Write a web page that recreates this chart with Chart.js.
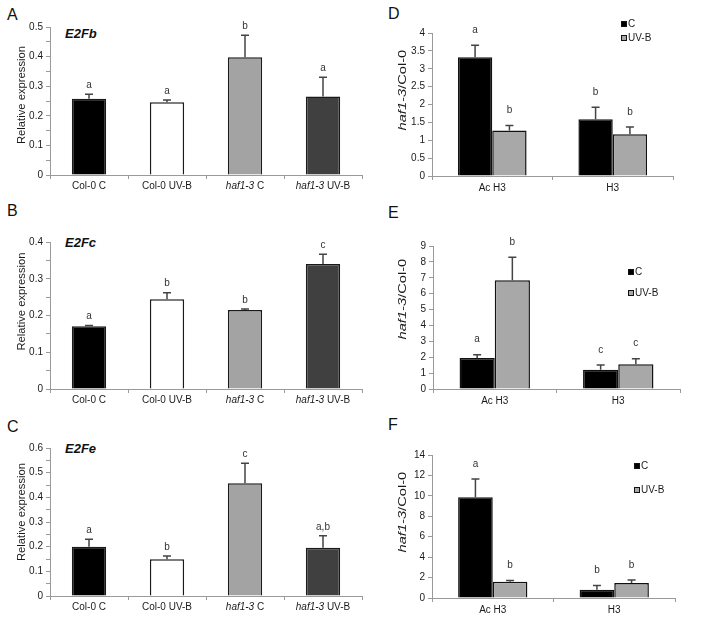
<!DOCTYPE html>
<html>
<head>
<meta charset="utf-8">
<script src="https://cdn.jsdelivr.net/npm/chart.js@4.4.1/dist/chart.umd.min.js"></script>
<style>
  body { margin: 0; background: #fff; width: 713px; height: 630px; position: relative; overflow: hidden; font-family: "Liberation Sans", Arial, sans-serif; }
  canvas { position: absolute; }
  .tag { position: absolute; font-size: 16px; color: #111; line-height: 16px; }
  .gene { position: absolute; font-size: 13px; font-weight: bold; font-style: italic; color: #111; line-height: 13px; }
</style>
</head>
<body>
<div class="tag" style="left:7px;top:7px">A</div>
<div class="tag" style="left:7px;top:203px">B</div>
<div class="tag" style="left:7px;top:419px">C</div>
<div class="tag" style="left:388px;top:6px">D</div>
<div class="tag" style="left:388px;top:205px">E</div>
<div class="tag" style="left:388px;top:417px">F</div>
<div class="gene" style="left:65px;top:27px">E2Fb</div>
<div class="gene" style="left:65px;top:236px">E2Fc</div>
<div class="gene" style="left:65px;top:442px">E2Fe</div>

<canvas id="chartA"></canvas>
<canvas id="chartB"></canvas>
<canvas id="chartC"></canvas>
<canvas id="chartD"></canvas>
<canvas id="chartE"></canvas>
<canvas id="chartF"></canvas>

<script>
// categories
const genotypes = ['Col-0 C', 'Col-0 UV-B', 'haf1-3 C', 'haf1-3 UV-B'];
const histones = ['Ac H3', 'H3'];
const treatments = ['C', 'UV-B'];

// A - E2Fb
const e2fbMean = [0.258, 0.246, 0.398, 0.265];
const e2fbSd = [0.015, 0.007, 0.074, 0.065];
const e2fbLetters = ['a', 'a', 'b', 'a'];
// B - E2Fc
const e2fcMean = [0.171, 0.244, 0.215, 0.340];
const e2fcSd = [0.002, 0.018, 0.003, 0.027];
const e2fcLetters = ['a', 'b', 'b', 'c'];
// C - E2Fe
const e2feMean = [0.200, 0.149, 0.457, 0.196];
const e2feSd = [0.030, 0.013, 0.081, 0.048];
const e2feLetters = ['a', 'b', 'c', 'a,b'];

// D
const dMeanC = [3.32, 1.59];
const dSdC = [0.34, 0.33];
const dMeanUV = [1.27, 1.17];
const dSdUV = [0.14, 0.20];
const dLettersC = ['a', 'b'];
const dLettersUV = ['b', 'b'];
// E
const eMeanC = [1.95, 1.21];
const eSdC = [0.21, 0.30];
const eMeanUV = [6.84, 1.55];
const eSdUV = [1.45, 0.36];
const eLettersC = ['a', 'c'];
const eLettersUV = ['b', 'c'];
// F
const fMeanC = [9.86, 0.81];
const fSdC = [1.79, 0.42];
const fMeanUV = [1.59, 1.46];
const fSdUV = [0.13, 0.30];
const fLettersC = ['a', 'b'];
const fLettersUV = ['b', 'b'];

// y axis ranges: [max, step]
const leftTicks = { A: [0.5, 0.05], B: [0.4, 0.05], C: [0.6, 0.05] };
const rightTicks = { D: [4, 0.5], E: [9, 1], F: [14, 2] };

const FONT = '"Liberation Sans", Arial, sans-serif';
Chart.defaults.font.family = FONT;
Chart.defaults.color = '#1a1a1a';

const genoColors = ['#000000', '#ffffff', '#a3a3a3', '#404040'];
const treatColors = ['#000000', '#a8a8a8'];

// draw text where "haf1-3" is italic
function mixedText(ctx, label, x, y, size, align) {
  const parts = label.startsWith('haf1-3') ? [['italic ', 'haf1-3'], ['', label.slice(6)]] : [['', label]];
  let total = 0;
  parts.forEach(p => { ctx.font = p[0] + size + 'px ' + FONT; total += ctx.measureText(p[1]).width; });
  let cx = align === 'center' ? x - total / 2 : x;
  ctx.textAlign = 'left';
  parts.forEach(p => {
    ctx.font = p[0] + size + 'px ' + FONT;
    ctx.fillText(p[1], cx, y);
    cx += ctx.measureText(p[1]).width;
  });
  return total;
}

const extras = {
  id: 'extras',
  afterDatasetsDraw(chart) {
    const p = chart.config.options.panel;
    const ctx = chart.ctx;
    const ys = chart.scales.y;
    ctx.save();
    chart.data.datasets.forEach((ds, d) => {
      const meta = chart.getDatasetMeta(d);
      meta.data.forEach((bar, i) => {
        const top = ys.getPixelForValue(ds.data[i] + ds.sd[i]);
        ctx.strokeStyle = '#444';
        ctx.lineWidth = 1.5;
        ctx.beginPath();
        ctx.moveTo(bar.x, bar.y);
        ctx.lineTo(bar.x, top);
        ctx.moveTo(bar.x - 4, top);
        ctx.lineTo(bar.x + 4, top);
        ctx.stroke();
        ctx.fillStyle = '#333';
        ctx.textBaseline = 'middle';
        ctx.textAlign = 'center';
        ctx.font = '10px ' + FONT;
        ctx.fillText(ds.letters[i], bar.x, top - p.letterGap);
      });
    });
    ctx.restore();
  },
  afterDraw(chart) {
    const p = chart.config.options.panel;
    const ctx = chart.ctx;
    const xs = chart.scales.x;
    const area = chart.chartArea;
    ctx.save();
    ctx.fillStyle = '#1a1a1a';
    ctx.textBaseline = 'middle';
    chart.data.labels.forEach((lab, i) => {
      mixedText(ctx, lab, xs.getPixelForValue(i), area.bottom + p.labelGap, 10, 'center');
    });
    // y title, stretched along its length
    ctx.translate(p.titleX, (area.top + area.bottom) / 2 + p.titleShift);
    ctx.rotate(-Math.PI / 2);
    ctx.font = '10px ' + FONT;
    const w = p.title.startsWith('haf1-3') ? 60 : ctx.measureText(p.title).width;
    ctx.scale(p.titleLen / w, 1);
    mixedText(ctx, p.title, -w / 2, 0, 10, 'left');
    ctx.restore();
    if (p.legend) {
      ctx.save();
      ctx.textBaseline = 'middle';
      ctx.textAlign = 'left';
      ctx.font = '10px ' + FONT;
      chart.data.datasets.forEach((ds, d) => {
        const lx = p.legend[0], ly = p.legend[1] + d * p.legend[2];
        ctx.fillStyle = ds.backgroundColor;
        ctx.fillRect(lx, ly - 3, 6, 6);
        ctx.strokeStyle = '#111';
        ctx.lineWidth = 1;
        ctx.strokeRect(lx + 0.5, ly - 2.5, 5, 5);
        ctx.fillStyle = '#1a1a1a';
        ctx.fillText(ds.label, lx + 7, ly);
      });
      ctx.restore();
    }
  }
};

function makePanel(p) {
  const cv = document.getElementById(p.id);
  cv.width = p.box[2];
  cv.height = p.box[3];
  cv.style.left = p.box[0] + 'px';
  cv.style.top = p.box[1] + 'px';
  const grey = '#9a9a9a';
  new Chart(cv, {
    type: 'bar',
    data: { labels: p.labels, datasets: p.datasets },
    plugins: [extras],
    options: {
      panel: p,
      responsive: false,
      animation: false,
      devicePixelRatio: 1,
      layout: { padding: { top: p.area[1] - p.box[1], right: p.box[0] + p.box[2] - p.area[2], bottom: 0, left: 0 } },
      plugins: { legend: { display: false }, tooltip: { enabled: false } },
      datasets: { bar: { barPercentage: 1, categoryPercentage: p.catPct } },
      scales: {
        x: {
          offset: true,
          grid: { offset: true, drawOnChartArea: false, drawTicks: true, tickLength: 4, color: grey },
          border: { color: grey },
          ticks: { display: false },
          afterFit: s => { s.height = p.box[1] + p.box[3] - p.area[3]; }
        },
        y: {
          min: 0, max: p.yRange[0],
          grid: { drawOnChartArea: false, tickLength: 4, color: grey },
          border: { color: grey },
          ticks: {
            stepSize: p.yRange[1], autoSkip: false, padding: 3,
            font: { size: 10 }, color: '#1a1a1a',
            callback: (v, i) => (i % p.labelEvery === 0 ? String(+v.toFixed(2)) : '')
          },
          afterFit: s => { s.width = p.area[0] - p.box[0]; }
        }
      }
    }
  });
}

function genoDataset(mean, sd, letters) {
  return [{ data: mean, sd: sd, letters: letters, backgroundColor: genoColors, borderColor: '#1a1a1a', borderWidth: 1.5 }];
}
function treatDatasets(mC, sC, lC, mU, sU, lU) {
  return [
    { label: treatments[0], data: mC, sd: sC, letters: lC, backgroundColor: treatColors[0], borderColor: '#111', borderWidth: 1.5 },
    { label: treatments[1], data: mU, sd: sU, letters: lU, backgroundColor: treatColors[1], borderColor: '#111', borderWidth: 1.5 }
  ];
}

const leftBase = { labels: genotypes, catPct: 0.44, labelEvery: 2, letterGap: 9, labelGap: 11, titleX: 22, title: 'Relative expression', titleLen: 98 };
const rightBase = { labels: histones, catPct: 0.57, labelEvery: 1, letterGap: 15, labelGap: 12, titleX: 38, title: 'haf1-3/Col-0', titleLen: 88 };

makePanel(Object.assign({}, leftBase, { id: 'chartA', box: [0, 0, 365, 205], area: [50, 27, 362, 175], titleShift: -6, yRange: leftTicks.A, datasets: genoDataset(e2fbMean, e2fbSd, e2fbLetters) }));
makePanel(Object.assign({}, leftBase, { id: 'chartB', box: [0, 205, 365, 210], area: [50, 242, 362, 389], titleShift: -14, yRange: leftTicks.B, datasets: genoDataset(e2fcMean, e2fcSd, e2fcLetters) }));
makePanel(Object.assign({}, leftBase, { id: 'chartC', box: [0, 415, 365, 215], area: [50, 448, 362, 596], titleShift: -10, yRange: leftTicks.C, datasets: genoDataset(e2feMean, e2feSd, e2feLetters) }));

makePanel(Object.assign({}, rightBase, { id: 'chartD', box: [365, 0, 348, 205], area: [432, 33, 673, 176], titleShift: -18, yRange: rightTicks.D, legend: [256, 24, 14], datasets: treatDatasets(dMeanC, dSdC, dLettersC, dMeanUV, dSdUV, dLettersUV) }));
makePanel(Object.assign({}, rightBase, { id: 'chartE', box: [365, 205, 348, 210], area: [433, 246, 680, 389], titleShift: -22, yRange: rightTicks.E, legend: [263, 67, 21], datasets: treatDatasets(eMeanC, eSdC, eLettersC, eMeanUV, eSdUV, eLettersUV) }));
makePanel(Object.assign({}, rightBase, { id: 'chartF', box: [365, 415, 348, 215], area: [432, 455, 675, 598], titleShift: -18, yRange: rightTicks.F, legend: [269, 51, 24], datasets: treatDatasets(fMeanC, fSdC, fLettersC, fMeanUV, fSdUV, fLettersUV) }));
</script>
</body>
</html>
